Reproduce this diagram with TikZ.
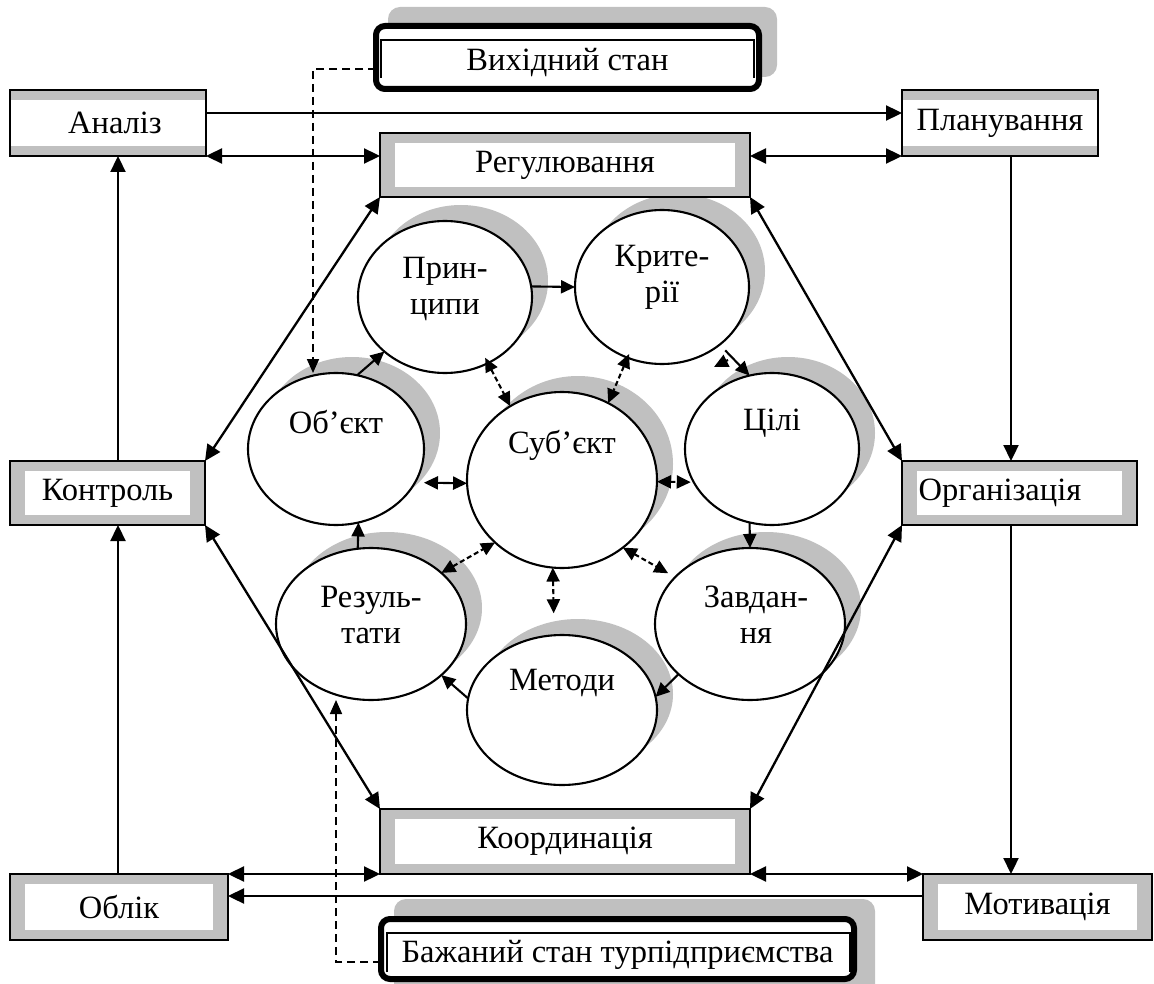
\documentclass[tikz,border=0pt]{standalone}
\usepackage{fontspec}
\setmainfont{Liberation Serif}
\usetikzlibrary{arrows.meta,shapes.geometric,calc}
\definecolor{frameg}{RGB}{192,192,192}
\begin{document}
\begin{tikzpicture}[x=1pt,y=-1pt,
  font=\fontsize{32.5}{36}\selectfont,
  framebox/.style={draw, line width=2.4pt, fill=frameg, inner sep=0pt, outer sep=0pt,
    path picture={\fill[white] ([xshift=15pt,yshift=-10pt]path picture bounding box.north west) rectangle ([xshift=-15pt,yshift=10pt]path picture bounding box.south east);}},
  bandbox/.style={draw, line width=2.4pt, fill=white, inner sep=0pt, outer sep=0pt,
    path picture={\fill[frameg] (path picture bounding box.north west) rectangle ([yshift=-10pt]path picture bounding box.north east);
                  \fill[frameg] ([yshift=10pt]path picture bounding box.south west) rectangle (path picture bounding box.south east);}},
  statebox/.style={draw, line width=6pt, fill=white, rounded corners=9pt, inner sep=0pt, outer sep=0pt},
  circ/.style={ellipse, draw, line width=2.1pt, fill=white, inner sep=0pt, outer sep=0pt},
  lbl/.style={align=center, inner sep=0pt},
  arr/.style={line width=2.3pt, -{Triangle[length=16pt,width=15pt]}},
  darr/.style={line width=2.3pt, {Triangle[length=16pt,width=15pt]}-{Triangle[length=16pt,width=15pt]}},
  iarr/.style={line width=2.1pt, -{Triangle[length=14pt,width=13pt]}},
  idarr/.style={line width=2.1pt, {Triangle[length=14pt,width=13pt]}-{Triangle[length=14pt,width=13pt]}},
  ddarr/.style={idarr, dash pattern=on 5pt off 3pt},
  dline/.style={line width=1.7pt, dash pattern=on 8pt off 5pt, -{Triangle[length=14pt,width=12pt]}},
  thinl/.style={line width=1.8pt}
]
\useasboundingbox (0,0) rectangle (1154,984);
\fill[white] (0,0) rectangle (1154,984);

% shadows of ellipses
\fill[frameg] (461,281) ellipse [x radius=87pt, y radius=76pt];
\fill[frameg] (678,271) ellipse [x radius=87pt, y radius=77pt];
\fill[frameg] (352,433) ellipse [x radius=88pt, y radius=76pt];
\fill[frameg] (578,464) ellipse [x radius=95pt, y radius=88pt];
\fill[frameg] (788,433) ellipse [x radius=87pt, y radius=76pt];
\fill[frameg] (387,608) ellipse [x radius=95pt, y radius=76pt];
\fill[frameg] (578,694) ellipse [x radius=95pt, y radius=75pt];
\fill[frameg] (766,608) ellipse [x radius=95pt, y radius=76pt];

% ellipses
\node[circ, minimum width=174pt, minimum height=152pt, label={[lbl,yshift=8pt]center:{Прин-\\ципи}}] (prin) at (445,297) {};
\node[circ, minimum width=174pt, minimum height=154pt, label={[lbl,yshift=10pt]center:{Крите-\\рії}}] (krit) at (662,287) {};
\node[circ, minimum width=176pt, minimum height=152pt, label={[lbl,yshift=27pt]center:{Об’єкт}}] (obj) at (336,449) {};
\node[circ, minimum width=190pt, minimum height=176pt, label={[lbl,yshift=35pt]center:{Суб’єкт}}] (sub) at (562,480) {};
\node[circ, minimum width=174pt, minimum height=152pt, label={[lbl,yshift=26pt]center:{Цілі}}] (cil) at (772,449) {};
\node[circ, minimum width=190pt, minimum height=152pt, label={[lbl,yshift=9pt]center:{Резуль-\\тати}}] (res) at (371,624) {};
\node[circ, minimum width=190pt, minimum height=150pt, label={[lbl,yshift=27pt]center:{Методи}}] (met) at (562,710) {};
\node[circ, minimum width=190pt, minimum height=152pt, label={[lbl,yshift=9pt,xshift=6pt]center:{Завдан-\\ня}}] (zav) at (750,624) {};

% outer boxes
\node[bandbox, minimum width=196pt, minimum height=66pt] (ana) at (108,123) {\hspace*{14pt}Аналіз};
\node[bandbox, minimum width=196pt, minimum height=66pt] (plan) at (1000,123) {Планування};
\node[framebox, minimum width=370pt, minimum height=64pt] (reg) at (565,165) {Регулювання};
\node[framebox, minimum width=195pt, minimum height=64pt] (kon) at (107.5,493) {Контроль};
\node[framebox, minimum width=235pt, minimum height=64pt] (org) at (1019.5,493) {Організація\hspace*{39pt}};
\node[framebox, minimum width=370pt, minimum height=65pt] (koo) at (565,841.5) {Координація};
\node[framebox, minimum width=218pt, minimum height=66pt] (obl) at (119,907) {Облік};
\node[framebox, minimum width=229pt, minimum height=66pt] (mot) at (1037.5,907) {Мотивація};

% state boxes
\fill[frameg, rounded corners=12pt] (388,7) rectangle (777,77);
\node[statebox, minimum width=383pt, minimum height=63pt, label={[inner sep=0pt,yshift=-5pt]center:Вихідний стан}] (vyh) at (567.5,57.5) {};
\draw[thinl] ([xshift=5pt,yshift=11pt]vyh.south west) |- ([xshift=-5pt,yshift=-14pt]vyh.north east) -- ([xshift=-5pt,yshift=11pt]vyh.south east);

\fill[frameg, rounded corners=12pt] (394,899) rectangle (875,1000);
\node[statebox, minimum width=473pt, minimum height=60pt, label={[inner sep=0pt,yshift=-6pt]center:Бажаний стан турпідприємства}] (baz) at (617.5,949) {};
\draw[thinl] ([xshift=6pt,yshift=7pt]baz.south west) |- ([xshift=-4pt,yshift=-14pt]baz.north east) -- ([xshift=-4pt,yshift=7pt]baz.south east);

% helper coordinates
\coordinate (lx) at (118,0);
\coordinate (vx) at (1011,0);
\coordinate (ty) at (0,113);
\coordinate (hy) at (0,896);
\coordinate (d1) at (313,69);
\coordinate (d2) at (336,962);
\coordinate (kx) at (714,367);
\coordinate (ky) at (728,360);

% outer connectors
\draw[arr] (ty -| ana.east) -- (ty -| plan.west);
\draw[darr] (ana.south east) -- (ana.south east -| reg.west);
\draw[darr] (plan.south west -| reg.east) -- (plan.south west);
\draw[arr] (plan.south -| vx) -- (org.north -| vx);
\draw[arr] (org.south -| vx) -- (mot.north -| vx);
\draw[arr] (kon.north -| lx) -- (ana.south -| lx);
\draw[arr] (obl.north -| lx) -- (kon.south -| lx);
\draw[darr] (obl.north east) -- (obl.north east -| koo.west);
\draw[darr] (koo.south east) -- (koo.south east -| mot.west);
\draw[arr] (hy -| mot.west) -- (hy -| obl.east);
\draw[darr] (reg.south west) -- (kon.north east);
\draw[darr] (reg.south east) -- (org.north west);
\draw[darr] (kon.south east) -- (koo.north west);
\draw[darr] (org.south west) -- (koo.north east);

% dashed state links
\draw[dline] (d1 -| vyh.west) -- (d1) -- (d1 |- obj.north);
\draw[dline] (d2 -| baz.west) -- (d2) -- (d2 |- res.south);

% inner cycle
\draw[iarr] (prin.7) -- (krit.west);
\draw[iarr] (obj.74) -- (prin.222);
\draw[iarr, shorten <=8pt] (krit.-45) -- (cil.107);
\draw[iarr] (ky) -- (kx);
\draw[iarr] (cil.-107) -- (zav.north);
\draw[iarr] (zav.215) -- (met.8);
\draw[iarr] (met.173) -- (res.-36);
\draw[iarr] (res.100) -- (obj.-73);

% links with subject
\draw[ddarr, shorten <=-6pt] (prin.-57) -- (sub.125);
\draw[ddarr, shorten <=-4pt] (krit.-116) -- (sub.59);
\draw[idarr, shorten <=9pt] (obj.-23) -- (sub.182);
\draw[ddarr, shorten >=3pt] (sub.-1) -- (cil.203);
\draw[ddarr] (res.36) -- (sub.-137);
\draw[ddarr, shorten >=22pt] (sub.-96) -- (met.96);
\draw[ddarr, shorten >=8pt] (sub.-48) -- (zav.148);
\end{tikzpicture}
\end{document}
